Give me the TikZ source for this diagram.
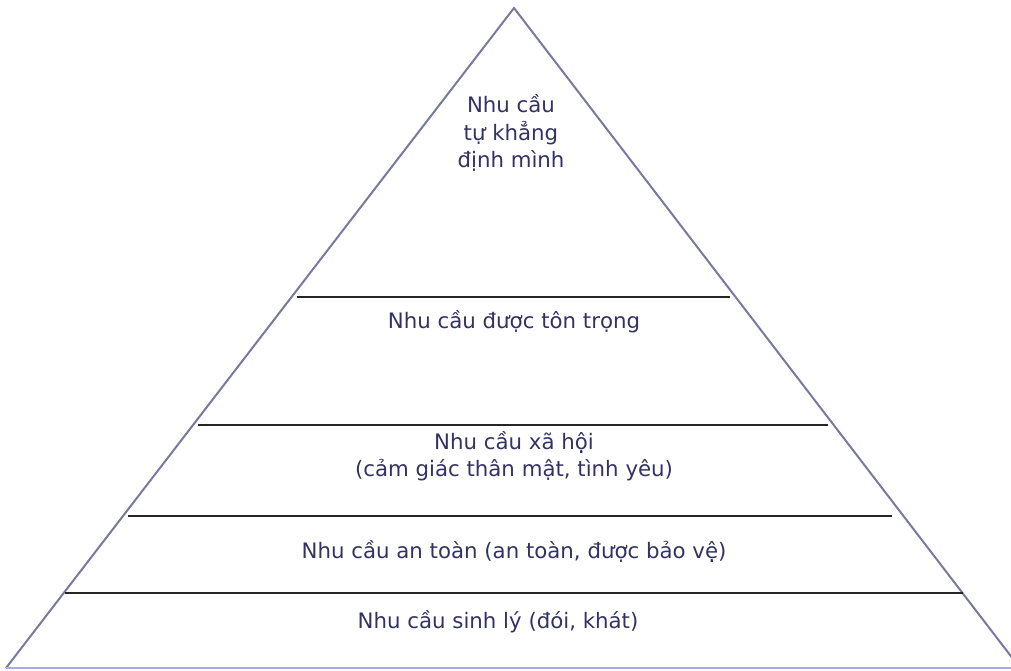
\documentclass[tikz,border=0pt]{standalone}
\usepackage{fontspec}
\setmainfont{DejaVu Sans}
\usepackage{tikz}
\definecolor{edgegray}{RGB}{120,120,160}
\definecolor{basepurple}{RGB}{170,170,230}
\definecolor{textnavy}{RGB}{50,50,100}
\tikzset{level/.style={
    % The text:
    font=\fontsize{21.3}{27.5}\selectfont,
    text=textnavy,
    align=center,
    inner sep=0pt,
    },
    divider/.style={
    % The border lines between levels:
    line width=2pt,
    draw=black!85,
    },
    side/.style={
    line width=2pt,
    draw=edgegray,
    },
}

\begin{document}
\begin{tikzpicture}[x=1pt,y=-1pt]
    \useasboundingbox (0,0) rectangle (1011,670);
    \coordinate (apex)  at (514,8);
    \coordinate (bleft) at (6,668);
    \coordinate (bright) at (1020,668);

    \draw[side] (bleft) -- (apex) -- (bright);
    \draw[line width=2pt,draw=basepurple] (bleft) -- (bright);

    \draw[divider] (297,297) -- (730,297);
    \draw[divider] (198,425) -- (828,425);
    \draw[divider] (128,516) -- (892,516);
    \draw[divider] (65,593) -- (963,593);

    \node (selfact) [level] at (511,133) {Nhu cầu\\tự khẳng\\định mình};
    \node (esteem)  [level] at (514,322) {Nhu cầu được tôn trọng};
    \node (social)  [level] at (514,456) {Nhu cầu xã hội\\(cảm giác thân mật, tình yêu)};
    \node (safety)  [level] at (514,551) {Nhu cầu an toàn (an toàn, được bảo vệ)};
    \node (physio)  [level] at (498,622) {Nhu cầu sinh lý (đói, khát)};
  \end{tikzpicture}
\end{document}
